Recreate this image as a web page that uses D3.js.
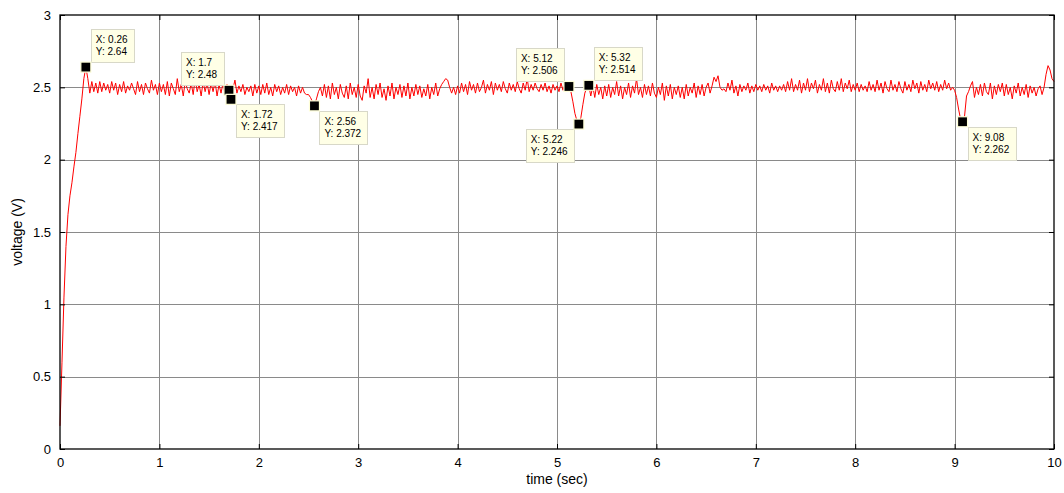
<!DOCTYPE html>
<html><head><meta charset="utf-8">
<script src="https://cdn.jsdelivr.net/npm/d3@7"></script>
<style>
html,body{margin:0;padding:0;background:#fff;}
svg{display:block;font-family:"Liberation Sans",Arial,sans-serif;}
</style></head>
<body><svg id="c" width="1064" height="493"></svg>
<script>
// sample interval 0.02 s, 501 samples from t=0 to t=10
const dt = 0.02;
const voltage = [
 0.16,0.60,1.05,1.40,1.62, 1.75,1.84,1.95,2.05,2.18, 2.30,2.42,2.56,2.64,2.56, 2.46,2.54,2.47,2.53,2.46, 2.54,2.47,2.53,2.48,2.52,
 2.46,2.54,2.48,2.53,2.45, 2.52,2.47,2.54,2.46,2.51, 2.48,2.53,2.49,2.45,2.54, 2.47,2.52,2.45,2.53,2.49, 2.46,2.55,2.48,2.52,2.45,
 2.53,2.47,2.52,2.45,2.54, 2.44,2.53,2.49,2.45,2.56, 2.47,2.52,2.44,2.54,2.49, 2.46,2.53,2.45,2.56,2.47, 2.52,2.44,2.54,2.47,2.53,
 2.45,2.53,2.47,2.54,2.44, 2.52,2.46,2.53,2.45,2.52, 2.48,2.417,2.49,2.55,2.46, 2.51,2.47,2.52,2.45,2.50, 2.47,2.51,2.44,2.52,2.46,
 2.51,2.45,2.52,2.46,2.53, 2.45,2.50,2.44,2.52,2.47, 2.51,2.45,2.50,2.46,2.52, 2.45,2.51,2.47,2.50,2.44, 2.51,2.46,2.50,2.46,2.45,
 2.45,2.43,2.40,2.372,2.42, 2.47,2.50,2.44,2.52,2.43, 2.51,2.42,2.53,2.45,2.50, 2.42,2.52,2.46,2.43,2.51, 2.42,2.53,2.45,2.50,2.43,
 2.52,2.44,2.41,2.51,2.46, 2.56,2.43,2.50,2.42,2.52, 2.45,2.53,2.43,2.49,2.41, 2.51,2.44,2.53,2.42,2.50, 2.45,2.52,2.43,2.51,2.44,
 2.53,2.42,2.50,2.44,2.52, 2.45,2.51,2.43,2.49,2.44, 2.52,2.42,2.50,2.45,2.53, 2.44,2.49,2.52,2.54,2.56, 2.55,2.50,2.46,2.50,2.45,
 2.51,2.46,2.53,2.47,2.52, 2.45,2.54,2.48,2.52,2.46, 2.53,2.47,2.50,2.55,2.46, 2.52,2.48,2.54,2.45,2.53, 2.48,2.52,2.47,2.54,2.49,
 2.46,2.53,2.48,2.52,2.47, 2.54,2.49,2.46,2.53,2.48, 2.56,2.47,2.52,2.48,2.53, 2.49,2.47,2.52,2.48,2.53, 2.47,2.51,2.46,2.52,2.48,
 2.51,2.47,2.53,2.48,2.52, 2.49,2.506,2.47,2.40,2.32, 2.27,2.246,2.29,2.38,2.46, 2.50,2.514,2.44,2.51,2.43, 2.52,2.45,2.50,2.42,2.51,
 2.44,2.52,2.43,2.50,2.45, 2.54,2.44,2.51,2.42,2.50, 2.45,2.53,2.43,2.51,2.46, 2.56,2.45,2.50,2.43,2.52, 2.45,2.51,2.44,2.53,2.46,
 2.43,2.50,2.45,2.53,2.41, 2.51,2.44,2.52,2.42,2.50, 2.45,2.51,2.43,2.50,2.42, 2.52,2.44,2.50,2.46,2.53, 2.43,2.51,2.45,2.52,2.44,
 2.50,2.53,2.46,2.51,2.57, 2.54,2.58,2.50,2.48,2.49, 2.47,2.53,2.48,2.55,2.46, 2.51,2.44,2.52,2.47,2.51, 2.48,2.53,2.46,2.51,2.47,
 2.52,2.48,2.51,2.47,2.52, 2.48,2.51,2.46,2.53,2.48, 2.51,2.47,2.51,2.48,2.52, 2.47,2.54,2.48,2.56,2.47, 2.52,2.48,2.55,2.46,2.53,
 2.48,2.56,2.47,2.53,2.49, 2.55,2.46,2.52,2.48,2.56, 2.47,2.53,2.46,2.55,2.49, 2.47,2.54,2.48,2.56,2.47, 2.53,2.49,2.55,2.47,2.52,
 2.48,2.53,2.47,2.52,2.48, 2.51,2.47,2.54,2.48,2.52, 2.47,2.55,2.48,2.53,2.46, 2.54,2.49,2.47,2.55,2.48, 2.52,2.47,2.54,2.49,2.46,
 2.54,2.48,2.52,2.47,2.55, 2.49,2.53,2.46,2.54,2.48, 2.52,2.47,2.55,2.49,2.53, 2.48,2.54,2.47,2.52,2.48, 2.55,2.49,2.53,2.48,2.50,
 2.48,2.43,2.35,2.28,2.262, 2.30,2.44,2.47,2.51,2.54, 2.43,2.50,2.45,2.52,2.44, 2.53,2.47,2.45,2.53,2.42, 2.51,2.45,2.52,2.47,2.53,
 2.44,2.52,2.45,2.50,2.42, 2.51,2.46,2.53,2.44,2.50, 2.45,2.52,2.43,2.51,2.46, 2.50,2.44,2.49,2.51,2.45, 2.50,2.59,2.65,2.62,2.56,
 2.54
];
const xTicks = [0,1,2,3,4,5,6,7,8,9,10];
const yTicks = [0,0.5,1,1.5,2,2.5,3];
const tipX = [0.26, 1.7, 1.72, 2.56, 5.12, 5.22, 5.32, 9.08];
const tipY = ["2.64", "2.48", "2.417", "2.372", "2.506", "2.246", "2.514", "2.262"];
const tipXLabel = ["0.26", "1.7", "1.72", "2.56", "5.12", "5.22", "5.32", "9.08"];
const tipDir = ["NE", "NW", "SE", "SE", "NW", "SW", "NE", "SE"];

const data = voltage.map((v, i) => ({t: i * dt, v}));
const L = 60, R = 1054, T = 15, B = 449;
const x = d3.scaleLinear().domain([0, 10]).range([L, R]);
const y = d3.scaleLinear().domain([0, 3]).range([B, T]);
const svg = d3.select("#c");

// grid
svg.append("g").selectAll("line").data(xTicks.slice(1, -1)).join("line")
  .attr("x1", d => Math.round(x(d)) + 0.5).attr("x2", d => Math.round(x(d)) + 0.5)
  .attr("y1", T).attr("y2", B).attr("stroke", "#8a8a8a").attr("stroke-width", 1);
svg.append("g").selectAll("line").data(yTicks.slice(1, -1)).join("line")
  .attr("y1", d => Math.round(y(d)) + 0.5).attr("y2", d => Math.round(y(d)) + 0.5)
  .attr("x1", L).attr("x2", R).attr("stroke", "#8a8a8a").attr("stroke-width", 1);

// line
svg.append("path").datum(data)
  .attr("fill", "none").attr("stroke", "#ff0000").attr("stroke-width", 1)
  .attr("d", d3.line().x(d => x(d.t)).y(d => y(d.v)));

// axes (ticks inside)
const gBottom = svg.append("g").attr("transform", `translate(0,${B})`)
  .call(d3.axisBottom(x).tickValues(xTicks).tickSize(-5).tickPadding(9).tickFormat(d3.format("d")));
const gTop = svg.append("g").attr("transform", `translate(0,${T})`)
  .call(d3.axisTop(x).tickValues(xTicks).tickSize(-5).tickFormat(""));
const gLeft = svg.append("g").attr("transform", `translate(${L},0)`)
  .call(d3.axisLeft(y).tickValues(yTicks).tickSize(-5).tickPadding(9).tickFormat(d => String(d)));
const gRight = svg.append("g").attr("transform", `translate(${R},0)`)
  .call(d3.axisRight(y).tickValues(yTicks).tickSize(-5).tickFormat(""));
[gBottom, gTop, gLeft, gRight].forEach(g => {
  g.select(".domain").remove();
  g.selectAll("line").attr("stroke", "#000");
  g.selectAll("text").attr("font-size", 13).attr("font-family", "Liberation Sans, Arial, sans-serif").attr("fill", "#000");
});
svg.append("rect").attr("x", L).attr("y", T).attr("width", R - L).attr("height", B - T)
  .attr("fill", "none").attr("stroke", "#000").attr("stroke-width", 1.3);

// axis labels
svg.append("text").attr("x", (L + R) / 2).attr("y", 484).attr("text-anchor", "middle")
  .attr("font-size", 14).text("time (sec)");
svg.append("text").attr("transform", `translate(22,${(T + B) / 2}) rotate(-90)`).attr("text-anchor", "middle")
  .attr("font-size", 14).text("voltage (V)");

// data tips
const tips = svg.append("g");
tipX.forEach((tx, i) => {
  const mx = x(tx), my = y(+tipY[i]);
  const w = tipY[i].length > 4 ? 48 : 43, h = 33;
  const dir = tipDir[i];
  const bx = dir.includes("E") ? mx + 5 : mx - 5 - w;
  const by = dir.includes("N") ? my - 5 - h : my + 5;
  const g = tips.append("g");
  g.append("rect").attr("x", Math.round(bx) + 0.5).attr("y", Math.round(by) + 0.5).attr("width", w).attr("height", h)
    .attr("fill", "#ffffe6").attr("stroke", "#d8d8c8").attr("stroke-width", 1);
  g.append("text").attr("x", bx + 5).attr("y", by + 14).attr("font-size", 10).text("X: " + tipXLabel[i]);
  g.append("text").attr("x", bx + 5).attr("y", by + 26).attr("font-size", 10).text("Y: " + tipY[i]);
  g.append("rect").attr("x", mx - 5).attr("y", my - 5).attr("width", 10).attr("height", 10)
    .attr("fill", "#000").attr("stroke", "#ffffd8").attr("stroke-width", 1.2);
});
</script></body></html>
